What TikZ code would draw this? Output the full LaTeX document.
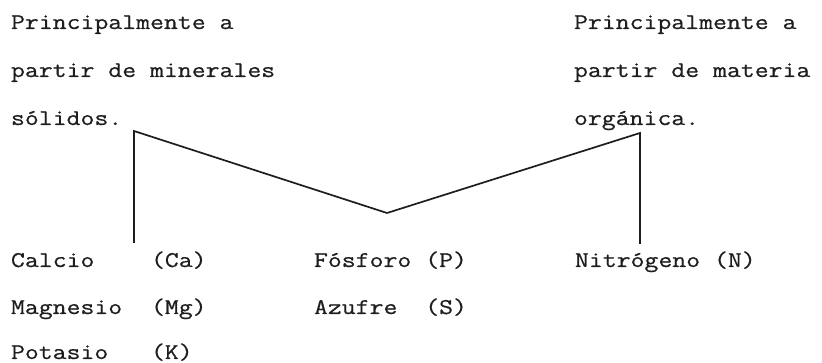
\documentclass[tikz,border=0pt]{standalone}
\usepackage{fontspec}
\setmonofont[FakeStretch=1.2,FakeBold=0.6]{Latin Modern Mono}
\definecolor{ink}{HTML}{1E1E1E}
\begin{document}
\begin{tikzpicture}[x=1pt,y=-1pt,
  txt/.style={anchor=base west,inner sep=0pt,outer sep=0pt,text=ink,font=\ttfamily\fontsize{22.5}{28}\selectfont},
  conn/.style={draw=ink,line width=1.7pt,line join=miter}]
\useasboundingbox (0,0) rectangle (822,363);
% top left text
\node[txt] (tl1) at (11,29) {Principalmente a};
\node[txt] (tl2) at (11,77) {partir de minerales};
\node[txt] (tl3) at (11,125) {sólidos.};
% top right text
\node[txt] (tr1) at (574,29) {Principalmente a};
\node[txt] (tr2) at (574,77) {partir de materia};
\node[txt] (tr3) at (574,125) {orgánica.};
% bottom rows
\node[txt] (ca) at (11,267) {Calcio};
\node[txt] (cas) at (151,267) {(Ca)};
\node[txt] (mg) at (11,314) {Magnesio};
\node[txt] (mgs) at (151,314) {(Mg)};
\node[txt] (k) at (11,359) {Potasio};
\node[txt] (ks) at (151,359) {(K)};
\node[txt] (p) at (314,267) {Fósforo (P)};
\node[txt] (s) at (314,314) {Azufre\ \ (S)};
\node[txt] (n) at (575,267) {Nitrógeno (N)};
% connector points
\coordinate (bl) at (134,243);
\coordinate (cl) at (134,131);
\coordinate (v) at (387,213);
\coordinate (cr) at (640,133);
\coordinate (br) at (640,244);
\draw[conn] (bl) -- (cl) -- (v) -- (cr) -- (br);
\end{tikzpicture}
\end{document}
